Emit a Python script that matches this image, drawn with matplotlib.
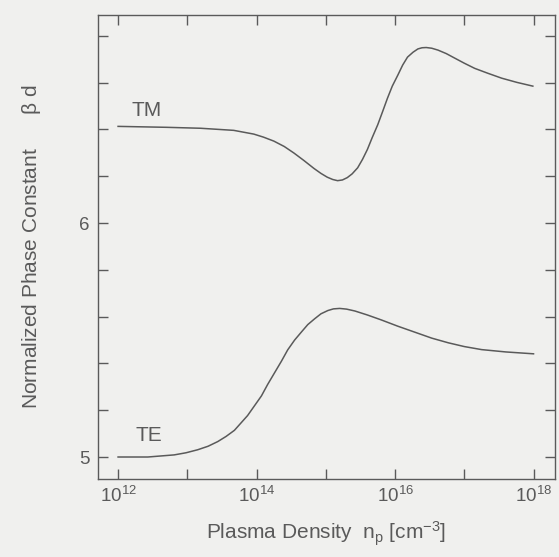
"""
plot.py - Normalized phase constant vs plasma density (TE / TM modes).
"""

import numpy as np
import matplotlib
matplotlib.use("Agg")
import matplotlib.pyplot as plt
from matplotlib.ticker import FixedLocator, FuncFormatter

plt.rcParams["font.family"] = ["Liberation Sans", "DejaVu Sans"]
plt.rcParams["mathtext.fontset"] = "custom"
plt.rcParams["mathtext.rm"] = "Liberation Sans"
plt.rcParams["mathtext.it"] = "Liberation Sans:italic"

# log10 of plasma density [cm^-3]
tm_log_n = [12.00, 12.70, 13.19, 13.67, 13.96, 14.10, 14.25, 14.40, 14.54,
            14.68, 14.83, 14.93, 15.02, 15.10, 15.17, 15.24, 15.31, 15.38,
            15.46, 15.53, 15.60, 15.67, 15.75, 15.82, 15.89, 15.96, 16.04,
            16.11, 16.18, 16.26, 16.33, 16.39, 16.45, 16.53, 16.62, 16.74,
            16.86, 17.00, 17.15, 17.34, 17.54, 17.76, 17.99]
tm_beta_d = [6.413, 6.409, 6.405, 6.396, 6.380, 6.367, 6.350, 6.327, 6.299,
             6.268, 6.233, 6.212, 6.196, 6.186, 6.181, 6.184, 6.194, 6.210,
             6.236, 6.272, 6.314, 6.365, 6.420, 6.476, 6.533, 6.585, 6.632,
             6.675, 6.709, 6.730, 6.744, 6.749, 6.750, 6.747, 6.739, 6.724,
             6.705, 6.683, 6.661, 6.640, 6.619, 6.601, 6.585]

te_log_n = [12.00, 12.43, 12.81, 12.98, 13.15, 13.30, 13.44, 13.56, 13.68,
            13.87, 14.07, 14.16, 14.26, 14.36, 14.45, 14.55, 14.65, 14.74,
            14.84, 14.93, 15.03, 15.11, 15.20, 15.30, 15.42, 15.60, 15.80,
            16.04, 16.29, 16.53, 16.77, 17.00, 17.25, 17.60, 18.00]
te_beta_d = [5.000, 5.000, 5.009, 5.018, 5.031, 5.046, 5.066, 5.088, 5.114,
             5.177, 5.261, 5.310, 5.360, 5.410, 5.458, 5.500, 5.535, 5.566,
             5.591, 5.612, 5.626, 5.633, 5.635, 5.632, 5.624, 5.607, 5.586,
             5.559, 5.533, 5.508, 5.488, 5.472, 5.459, 5.449, 5.441]

x_decades = [12, 13, 14, 15, 16, 17, 18]
y_labelled = [5, 6]
y_minor = [5.2, 5.4, 5.6, 5.8, 6.2, 6.4, 6.6, 6.8]

BG = "#f0f0ee"
INK = "#5a5a5a"

fig = plt.figure(figsize=(5.59, 5.57), dpi=100, facecolor=BG)
ax = fig.add_axes([98 / 559, 1 - 479 / 557, 457 / 559, 464 / 557])
ax.set_facecolor(BG)

ax.plot(10.0 ** np.array(tm_log_n), tm_beta_d, color=INK, linewidth=1.1)
ax.plot(10.0 ** np.array(te_log_n), te_beta_d, color=INK, linewidth=1.1)

ax.set_xscale("log")
ax.set_xlim(10 ** 11.71, 10 ** 18.31)
ax.set_ylim(4.906, 6.889)

# Curve labels
ax.text(10 ** 12.19, 6.48, "TM", fontsize=15, color=INK, ha="left", va="center")
ax.text(10 ** 12.25, 5.09, "TE", fontsize=15, color=INK, ha="left", va="center")

# X ticks: every decade, label only even exponents
ax.xaxis.set_major_locator(FixedLocator([10.0 ** d for d in x_decades]))
ax.xaxis.set_minor_locator(FixedLocator([]))
ax.xaxis.set_major_formatter(FuncFormatter(
    lambda v, pos: r"$10^{%d}$" % round(np.log10(v)) if round(np.log10(v)) % 2 == 0 else ""))

# Y ticks: every 0.2, label only 5 and 6
ax.yaxis.set_major_locator(FixedLocator(y_labelled))
ax.yaxis.set_minor_locator(FixedLocator(y_minor))
ax.yaxis.set_major_formatter(FuncFormatter(lambda v, pos: "%d" % v))

ax.tick_params(which="both", direction="in", top=True, right=True,
               length=7, width=1.0, color=INK, labelcolor=INK, labelsize=13.5)
ax.tick_params(axis="x", pad=5)
ax.tick_params(axis="y", pad=6)
for spine in ax.spines.values():
    spine.set_color(INK)
    spine.set_linewidth(1.0)

ax.set_xlabel(r"Plasma Density  $\mathrm{n_p}$ [cm$^{-3}$]", fontsize=15,
              color=INK, labelpad=10)
ax.set_ylabel(r"Normalized Phase Constant      $\mathrm{\beta}$ d", fontsize=15,
              color=INK, labelpad=26)

plt.savefig("out.png", dpi=100, facecolor=BG)
plt.close()
